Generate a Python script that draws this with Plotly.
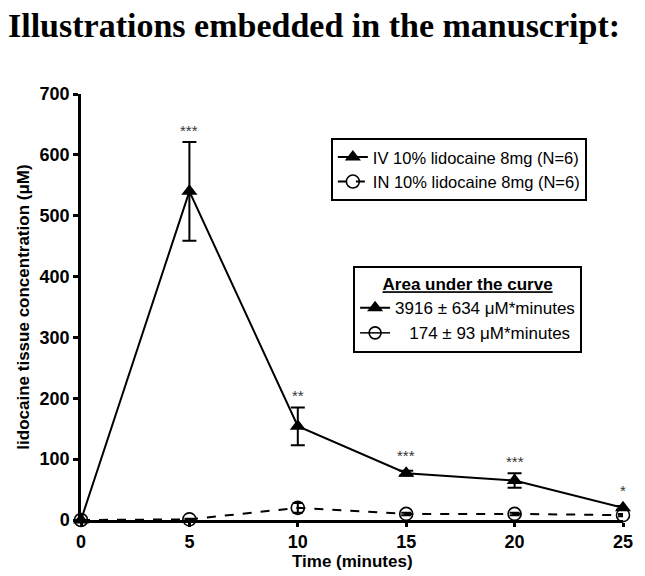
import plotly.graph_objects as go

# ---- data ----
time_min = [0, 5, 10, 15, 20, 25]
iv_mean = [0, 540, 154, 77, 65, 20]
iv_err = [0, 81, 31, 4, 12, 3]
in_mean = [0, 1, 20, 10, 10, 8]
in_err = [0, 1, 8, 2, 2, 2]
sig_labels = ["", "***", "**", "***", "***", "*"]
iv_name = "IV 10% lidocaine 8mg (N=6)"
in_name = "IN 10% lidocaine 8mg (N=6)"
auc_title = "Area under the curve"
auc_iv = "3916 ± 634 μM*minutes"
auc_in = "174 ± 93 μM*minutes"
x_ticks = [0, 5, 10, 15, 20, 25]
y_ticks = [0, 100, 200, 300, 400, 500, 600, 700]

FONT = "Arial, 'Liberation Sans', sans-serif"

fig = go.Figure()

fig.add_trace(go.Scatter(
    x=time_min, y=in_mean, name=in_name, mode="lines+markers",
    line=dict(color="black", width=2, dash="dash"),
    marker=dict(symbol="circle-open", size=13, color="black", line=dict(width=1.6, color="black")),
    error_y=dict(type="data", array=in_err, color="black", thickness=2, width=5, visible=True),
    cliponaxis=False, legend="legend", legendrank=2,
))
fig.add_trace(go.Scatter(
    x=time_min, y=iv_mean, name=iv_name, mode="lines+markers",
    line=dict(color="black", width=2),
    marker=dict(symbol="triangle-up", size=14, color="black"),
    error_y=dict(type="data", array=iv_err, color="black", thickness=2, width=7, visible=True),
    cliponaxis=False, legend="legend", legendrank=1,
))

# AUC legend entries (second box)
fig.add_trace(go.Scatter(
    x=[None], y=[None], name=auc_iv, mode="lines+markers",
    line=dict(color="black", width=2),
    marker=dict(symbol="triangle-up", size=14, color="black"),
    legend="legend2", legendrank=1,
))
fig.add_trace(go.Scatter(
    x=[None], y=[None], name="\u00a0\u00a0\u00a0" + auc_in, mode="lines+markers",
    line=dict(color="black", width=1.5),
    marker=dict(symbol="circle-open", size=12, color="black", line=dict(width=1.6)),
    legend="legend2", legendrank=2,
))

# significance stars
for t, m, e, s in zip(time_min, iv_mean, iv_err, sig_labels):
    if s:
        fig.add_annotation(
            x=t, y=m + e, text=s, showarrow=False, yanchor="bottom",
            yshift=1 if e > 5 else 5,
            font=dict(family=FONT, size=15, color="#333333"),
        )

# x-axis title placed as annotation for precise position
fig.add_annotation(
    x=0.5, y=-0.097, xref="paper", yref="paper", xanchor="center", yanchor="middle",
    text="<b>Time (minutes)</b>", showarrow=False,
    font=dict(family=FONT, size=17, color="black"),
)

fig.update_layout(
    width=637, height=568,
    paper_bgcolor="white", plot_bgcolor="white",
    margin=dict(l=73, r=22, t=86, b=56, autoexpand=False),
    font=dict(family=FONT, color="black"),
    title=dict(
        text="<b>Illustrations embedded in the manuscript:</b>",
        font=dict(family="'Liberation Serif', 'Times New Roman', serif", size=34, color="black"),
        x=0.0, xanchor="left", xref="container",
        y=0.99, yanchor="top", yref="container",
        pad=dict(l=0, t=0),
    ),
    xaxis=dict(
        range=[0, 25], tickvals=x_ticks, ticktext=[str(v) for v in x_ticks],
        showline=True, linecolor="black", linewidth=2.5,
        ticks="outside", ticklen=4, tickwidth=2.5, tickcolor="black",
        showgrid=False, zeroline=False, automargin=False,
        tickfont=dict(family=FONT, size=18, color="black", weight="bold"),
    ),
    yaxis=dict(
        range=[0, 700], tickvals=y_ticks, ticktext=[str(v) for v in y_ticks],
        showline=True, linecolor="black", linewidth=2.5,
        ticks="outside", ticklen=5, tickwidth=2.5, tickcolor="black",
        showgrid=False, zeroline=False, automargin=False,
        tickfont=dict(family=FONT, size=18, color="black", weight="bold"),
        title=dict(text="<b>lidocaine tissue concentration (μM)</b>", font=dict(family=FONT, size=17), standoff=6),
    ),
    legend=dict(
        x=0.461, y=0.897, xanchor="left", yanchor="top",
        bordercolor="black", borderwidth=2, bgcolor="white",
        font=dict(family=FONT, size=16.5, color="black"),
        traceorder="normal", itemwidth=30,
    ),
    legend2=dict(
        x=0.502, y=0.596, xanchor="left", yanchor="top",
        bordercolor="black", borderwidth=2, bgcolor="white",
        font=dict(family=FONT, size=17, color="black"),
        title=dict(text="<b><u>" + auc_title + "</u></b>", side="top center",
                   font=dict(family=FONT, size=17, color="black")),
        traceorder="normal", itemwidth=30,
    ),
    showlegend=True,
)

fig.write_html("out.html")
